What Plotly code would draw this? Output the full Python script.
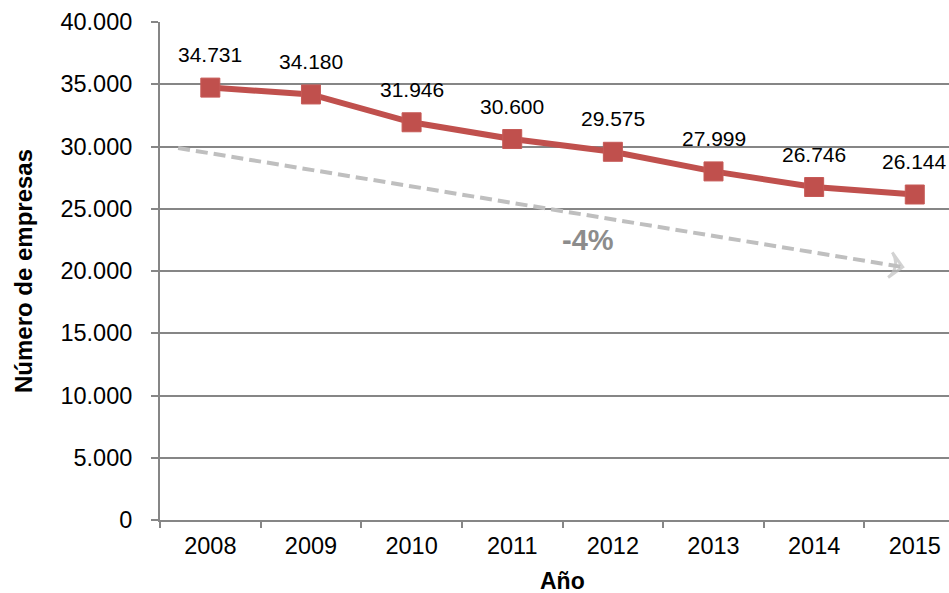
import plotly.graph_objects as go

years = ["2008", "2009", "2010", "2011", "2012", "2013", "2014", "2015"]
empresas = [34731, 34180, 31946, 30600, 29575, 27999, 26746, 26144]
y_ticks = [0, 5000, 10000, 15000, 20000, 25000, 30000, 35000, 40000]

# trend arrow endpoints, in category-index units (0 = 2008)
trend_x = [-0.32, 6.88]
trend_y = [29880, 20320]
trend_label = "-4%"
trend_label_pos = (3.75, 22490)

X_RANGE = [-0.5, 7.34]
RED = "#C0504D"
GRAY = "#868686"
FONT = "Arial, Liberation Sans, sans-serif"

fig = go.Figure()

# dashed trend arrow (on an invisible numeric overlay axis)
fig.add_trace(go.Scatter(
    x=trend_x, y=trend_y, mode="lines", xaxis="x2",
    line=dict(color="#BFBFBF", width=4, dash="12px,6px"),
    hoverinfo="skip", showlegend=False,
))
fig.add_trace(go.Scatter(
    x=trend_x, y=trend_y, mode="markers", xaxis="x2",
    marker=dict(symbol=["circle-open", "arrow-wide-open"], size=[0, 18], angleref="previous",
                color="#BFBFBF", line=dict(color="#BFBFBF", width=3)),
    hoverinfo="skip", showlegend=False,
))

fig.add_trace(go.Scatter(
    x=years, y=empresas, mode="lines+markers",
    line=dict(color=RED, width=6),
    marker=dict(symbol="square", size=19, color=RED, line=dict(color="#C65A57", width=1)),
    showlegend=False,
))

for i, v in enumerate(empresas):
    fig.add_annotation(x=i, y=v, xref="x2", yref="y", text=f"{v:,}".replace(",", "."),
                       showarrow=False, yshift=33,
                       font=dict(family=FONT, size=21, color="black"))

fig.add_annotation(x=trend_label_pos[0], y=trend_label_pos[1], xref="x2", yref="y",
                   text=f"<b>{trend_label}</b>",
                   showarrow=False, font=dict(family=FONT, size=29, color="#8C8C8C"))

fig.add_annotation(xref="paper", yref="paper", x=(562 - 160) / (949 - 160), y=-0.123,
                   text="<b>Año</b>", showarrow=False, yanchor="middle",
                   font=dict(family=FONT, size=23, color="black"))

fig.update_layout(
    width=949, height=593,
    margin=dict(l=160, r=0, t=22, b=73),
    paper_bgcolor="white", plot_bgcolor="white",
    separators=",.",
    font=dict(family=FONT, color="black"),
    xaxis=dict(
        type="category", range=X_RANGE,
        tickson="boundaries", ticks="outside", ticklen=6, tickcolor=GRAY, tickwidth=2,
        showline=True, linecolor=GRAY, linewidth=2, showgrid=False,
        tickfont=dict(family=FONT, size=23.5, color="black"),
        ticklabelstandoff=4,
    ),
    xaxis2=dict(
        overlaying="x", range=X_RANGE, visible=False, showgrid=False, zeroline=False,
    ),
    yaxis=dict(
        range=[0, 40000], tickvals=y_ticks, tickformat=",d",
        ticks="outside", ticklen=7, tickcolor=GRAY, tickwidth=2,
        showline=True, linecolor=GRAY, linewidth=2,
        showgrid=True, gridcolor=GRAY, gridwidth=1.5, zeroline=False,
        tickfont=dict(family=FONT, size=23.5, color="black"),
        ticklabelstandoff=14,
        title=dict(text="<b>Número de empresas</b>", font=dict(family=FONT, size=24, color="black"),
                   standoff=21),
    ),
)

fig.write_html("out.html")
